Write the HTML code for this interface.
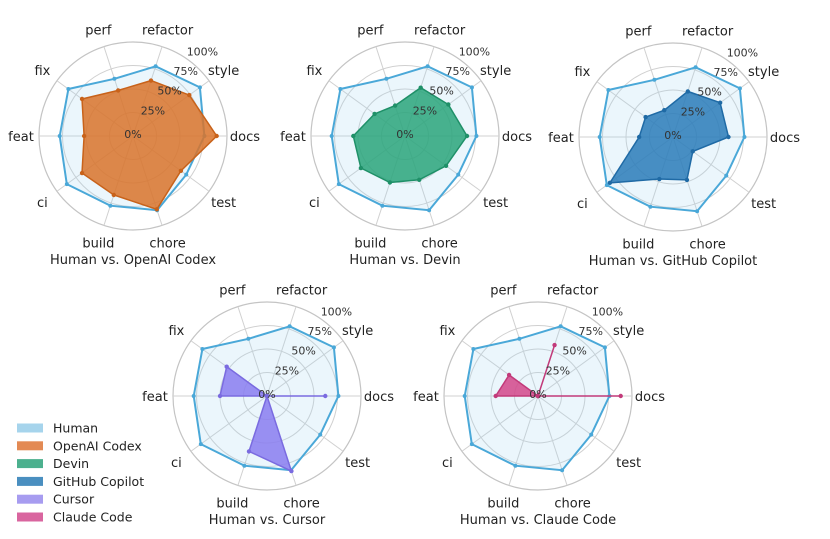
<!DOCTYPE html>
<html><head><meta charset="utf-8"><style>
html,body{margin:0;padding:0;background:#fff;}
svg{display:block;font-family:"DejaVu Sans","Liberation Sans",sans-serif;}
</style></head><body>
<svg id="s" width="830" height="539" viewBox="0 0 830 539" xmlns="http://www.w3.org/2000/svg"></svg>
<script>
const cats=["docs","style","refactor","perf","fix","feat","ci","build","chore","test"];
const human=[.76,.88,.78,.64,.85,.78,.87,.78,.83,.70];
const charts=[
 {cx:133,cy:136,t:"Human vs. OpenAI Codex",c:"#d9732a",e:"#c8621a",v:[.89,.74,.62,.51,.67,.52,.67,.66,.82,.63]},
 {cx:405,cy:136,t:"Human vs. Devin",c:"#2aa57a",e:"#1f9068",v:[.66,.57,.54,.34,.40,.55,.58,.52,.49,.54]},
 {cx:673,cy:137,t:"Human vs. GitHub Copilot",c:"#2a7bb8",e:"#1f6aa5",v:[.59,.62,.51,.30,.36,.36,.83,.47,.48,.26]},
 {cx:267,cy:396,t:"Human vs. Cursor",c:"#8a7cf0",e:"#7a6be0",v:[.62,0,0,0,.53,.50,0,.62,.84,0]},
 {cx:538,cy:396,t:"Human vs. Claude Code",c:"#d4478a",e:"#c23a7a",v:[.88,0,.57,0,.38,.45,0,0,0,0]}
];
const R=94;let h="";
function pt(cx,cy,i,r){const a=i*36*Math.PI/180;return [cx+r*Math.cos(a),cy-r*Math.sin(a)];}
function poly(cx,cy,v){return v.map((x,i)=>pt(cx,cy,i,x*R).map(n=>n.toFixed(1)).join(",")).join(" ");}
for(const ch of charts){
 const {cx,cy}=ch;
 for(const k of [.25,.5,.75]) h+=`<circle cx="${cx}" cy="${cy}" r="${k*R}" fill="none" stroke="#d0d0d0" stroke-width="1"/>`;
 h+=`<circle cx="${cx}" cy="${cy}" r="${R}" fill="none" stroke="#c4c4c4" stroke-width="1.2"/>`;
 for(let i=0;i<10;i++){const p=pt(cx,cy,i,R);h+=`<line x1="${cx}" y1="${cy}" x2="${p[0]}" y2="${p[1]}" stroke="#d0d0d0" stroke-width="1"/>`;}
 h+=`<polygon points="${poly(cx,cy,human)}" fill="#a6d8f0" fill-opacity="0.22" stroke="#4aa8d8" stroke-width="2"/>`;
 human.forEach((x,i)=>{const p=pt(cx,cy,i,x*R);h+=`<circle cx="${p[0]}" cy="${p[1]}" r="2" fill="#4aa8d8"/>`;});
 h+=`<polygon points="${poly(cx,cy,ch.v)}" fill="${ch.c}" fill-opacity="0.85" stroke="${ch.e}" stroke-width="1.5"/>`;
 ch.v.forEach((x,i)=>{const p=pt(cx,cy,i,x*R);h+=`<circle cx="${p[0]}" cy="${p[1]}" r="2.2" fill="${ch.e}"/>`;});
 const rl=[["0%",0],["25%",31],["50%",57],["75%",82],["100%",108]];
 rl.forEach(([s,r])=>{const a=50*Math.PI/180;const x=cx+r*Math.cos(a),y=cy-r*Math.sin(a)+2;h+=`<text x="${x}" y="${y}" font-size="11" fill="#333" text-anchor="middle">${s}</text>`;});
 cats.forEach((c,i)=>{const p=pt(cx,cy,i,112);h+=`<text x="${p[0]}" y="${p[1]+5}" font-size="13" fill="#222" text-anchor="middle">${c}</text>`;});
 h+=`<text x="${cx}" y="${cy+128}" font-size="13" fill="#222" text-anchor="middle">${ch.t}</text>`;
}
const leg=[["Human","#a6d4ec"],["OpenAI Codex","#e38a54"],["Devin","#4cb08e"],["GitHub Copilot","#4a8fc0"],["Cursor","#a79cf0"],["Claude Code","#d9659f"]];
leg.forEach(([n,c],i)=>{const y=428+i*17.8;h+=`<rect x="17" y="${y-4.5}" width="26" height="9" fill="${c}"/><text x="53" y="${y+4.5}" font-size="12.5" fill="#222">${n}</text>`;});
document.getElementById("s").innerHTML=h;
</script>
</body></html>
